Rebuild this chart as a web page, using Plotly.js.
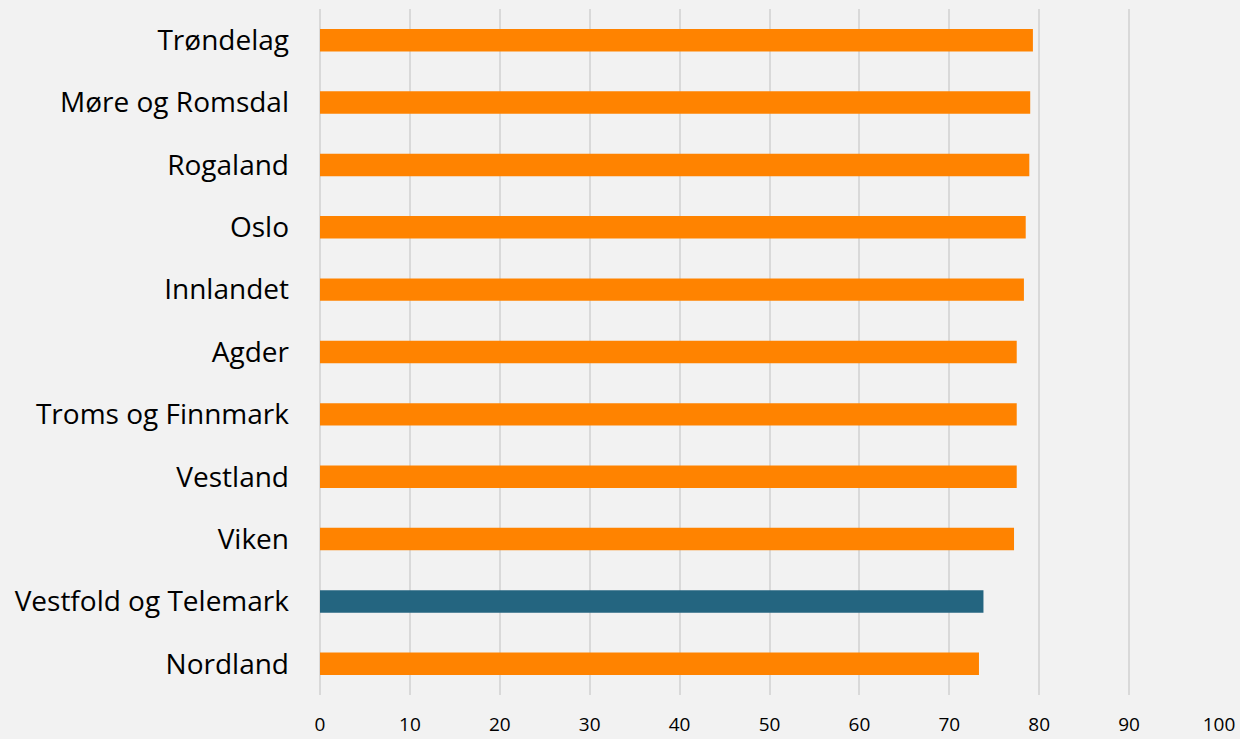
<!DOCTYPE html>
<html>
<head>
<meta charset="utf-8">
<script src="https://cdn.plot.ly/plotly-3.0.1.min.js"></script>
<style>html,body{margin:0;padding:0;background:#f2f2f2;}#chart{width:1240px;height:739px;}</style>
</head>
<body>
<div id="chart"></div>
<script>
var regions = ["Nordland","Vestfold og Telemark","Viken","Vestland","Troms og Finnmark","Agder","Innlandet","Oslo","Rogaland","Møre og Romsdal","Trøndelag"];
var values = [73.3, 73.8, 77.2, 77.5, 77.5, 77.5, 78.3, 78.5, 78.9, 79.0, 79.3];
var highlight = "Vestfold og Telemark";
var colors = regions.map(function(r){ return r === highlight ? "#246580" : "#ff8300"; });

var trace = {
  type: "bar",
  orientation: "h",
  y: regions,
  x: values,
  marker: {color: colors},
  width: 0.36,
  hoverinfo: "x+y"
};

var layout = {
  width: 1240, height: 739,
  paper_bgcolor: "#f2f2f2",
  plot_bgcolor: "#f2f2f2",
  margin: {l: 319.5, r: 20.5, t: 9, b: 44},
  showlegend: false,
  font: {family: "'Open Sans', Lato, sans-serif", color: "#000"},
  xaxis: {
    range: [0, 100],
    dtick: 10,
    showgrid: true,
    gridcolor: "#d9d9d9",
    gridwidth: 2,
    zeroline: true,
    zerolinecolor: "#d9d9d9",
    zerolinewidth: 2,
    showline: false,
    ticks: "",
    tickfont: {size: 19, color: "#000"},
    ticklabelstandoff: 16,
    fixedrange: true
  },
  yaxis: {
    type: "category",
    showgrid: false,
    zeroline: false,
    showline: false,
    ticks: "",
    tickfont: {size: 28, color: "#000"},
    ticklabelstandoff: 30,
    fixedrange: true
  }
};

Plotly.newPlot("chart", [trace], layout, {displayModeBar: false, staticPlot: true});
</script>
</body>
</html>
